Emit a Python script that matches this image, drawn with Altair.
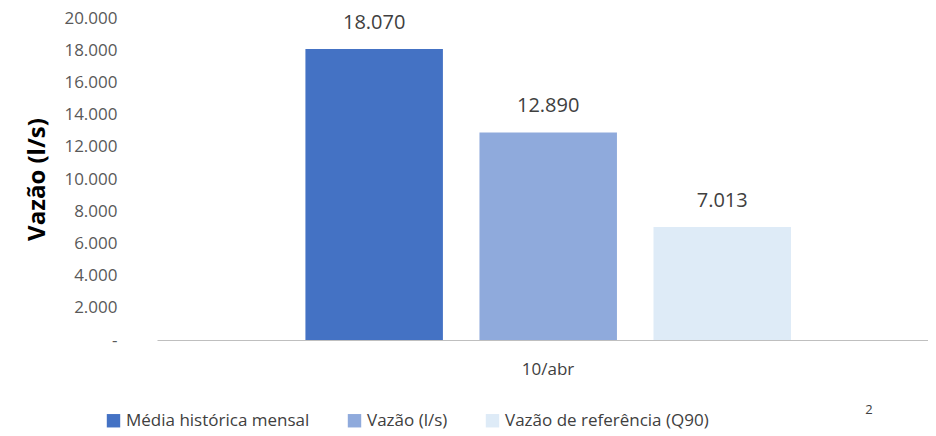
import pandas as pd
import altair as alt

series = ['Média histórica mensal', 'Vazão (l/s)', 'Vazão de referência (Q90)']
values = [18070, 12890, 7013]
labels = ['18.070', '12.890', '7.013']
colors = ['#4472C4', '#8FAADC', '#DEEBF7']
category = '10/abr'

df = pd.DataFrame({'serie': series, 'valor': values, 'rotulo': labels})
font = 'Open Sans'

base = alt.Chart(df).encode(
    x=alt.X('serie:N', sort=series, title=None,
            scale=alt.Scale(paddingInner=0.21, paddingOuter=0.82, align=0.52),
            axis=alt.Axis(labels=False, ticks=False, domainColor='#BFBFBF', domainWidth=1)),
    y=alt.Y('valor:Q', title='Vazão (l/s)', scale=alt.Scale(domain=[0, 20000], nice=False),
            axis=alt.Axis(values=list(range(0, 20001, 2000)), grid=False, ticks=False, domain=False,
                          labelOverlap=False,
                          labelExpr="datum.value == 0 ? '-' : replace(format(datum.value, ',.0f'), ',', '.')",
                          labelFontSize=17, labelColor='#595959', labelFont=font, labelPadding=40,
                          titleFontSize=24, titleFont=font, titleColor='#000000', titlePadding=14)),
)

bars = base.mark_bar().encode(
    color=alt.Color('serie:N', sort=series, scale=alt.Scale(domain=series, range=colors),
                    legend=alt.Legend(title=None, orient='none', direction='horizontal',
                                      legendX=-52, legendY=394, symbolType='square', symbolSize=180,
                                      labelFontSize=17, labelFont=font, labelColor='#404040',
                                      labelLimit=0, columnPadding=36, symbolStrokeWidth=0)),
)

text = base.mark_text(dy=-26, fontSize=20, font=font, color='#404040').encode(text='rotulo:N')

cat = alt.Chart(pd.DataFrame({'t': [category]})).mark_text(
    fontSize=17, font=font, color='#404040').encode(
    x=alt.value(391), y=alt.value(352), text='t:N')

sup = alt.Chart(pd.DataFrame({'t': ['2']})).mark_text(
    fontSize=13, font=font, color='#404040').encode(
    x=alt.value(712), y=alt.value(392), text='t:N')

chart = (bars + text + cat + sup).properties(
    width=771, height=322,
    autosize=alt.AutoSizeParams(type='none'),
    padding={'left': 149, 'top': 10, 'right': 0, 'bottom': 96},
).configure_view(stroke=None).configure_axisY(labelOverlap=False, labelFlush=False)

chart.save("out.html", embed_options={"renderer": "svg", "actions": False})
